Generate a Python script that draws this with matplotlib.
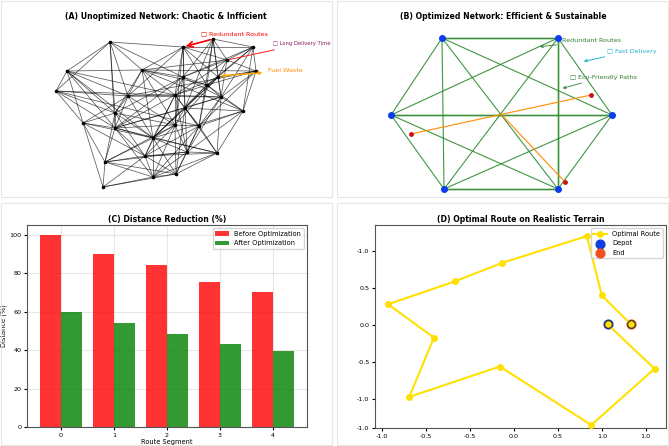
import matplotlib.pyplot as plt
from matplotlib.patches import Rectangle

# ---- panel A: chaotic network (positions, pixel units)
a_nodes = [(110, 42), (183, 47), (213, 39), (253, 47), (227, 60), (256, 71),
           (67, 71), (142, 70), (56, 91), (218, 77), (183, 77), (207, 85),
           (128, 96), (175, 95), (221, 97), (243, 111), (115, 113), (185, 108),
           (83, 123), (115, 128), (175, 125), (199, 126), (153, 138), (187, 152),
           (217, 153), (145, 156), (105, 162), (153, 177), (176, 174), (103, 187)]
a_links = {
    0: [6, 8, 1, 7, 12, 16, 10, 19],
    1: [2, 7, 10, 13, 17, 20, 3, 4, 9, 11, 12],
    2: [3, 4, 9, 11, 14, 10, 17, 21],
    3: [5, 4, 9, 14, 15, 11, 10],
    4: [5, 9, 14, 10, 7, 13],
    5: [9, 14, 15, 11, 12, 21, 7],
    6: [8, 7, 12, 16, 18, 19, 13, 22],
    7: [12, 13, 10, 16, 20, 22, 11, 15],
    8: [12, 16, 18, 19, 14, 21],
    9: [11, 14, 13, 17, 20, 22],
    10: [11, 13, 17, 14, 16, 20, 19],
    11: [13, 14, 17, 21, 22, 15],
    12: [16, 19, 13, 14, 22, 20, 18],
    13: [17, 20, 21, 19, 22, 23, 25],
    14: [15, 17, 21, 24, 19, 23],
    15: [21, 24, 23, 17, 22],
    16: [18, 19, 22, 20, 25, 26],
    17: [20, 21, 23, 22, 24, 28, 19],
    18: [19, 26, 29, 22, 25],
    19: [22, 25, 26, 20, 27, 24],
    20: [21, 22, 23, 25, 28, 27, 26],
    21: [23, 24, 28, 25, 27],
    22: [25, 23, 27, 28, 24, 26],
    23: [24, 28, 27, 25, 26],
    24: [28, 27, 25],
    25: [26, 27, 28, 29],
    26: [29, 27, 28],
    27: [28, 29],
    28: [29],
}

# ---- panel B: optimized hexagon network
b_nodes = [(442, 38), (558, 38), (612, 115), (558, 189), (444, 189), (391, 115)]
b_strong = [(1, 3), (4, 3), (5, 2), (0, 1)]
b_orange = [((411, 134), (591, 95)), ((502, 115), (565, 182))]
b_red = [(411, 134), (591, 95), (565, 182)]

# ---- panel C: distance reduction
segments = [0, 1, 2, 3, 4]
before = [100, 90, 84, 75.5, 70.3]
after = [60, 54.3, 48.5, 43.3, 39.7]

# ---- panel D: route
route_x = [1.065, 1.60, 0.88, -0.16, -1.19, -0.91, -1.43, -0.67, -0.13, 0.83, 1.00, 1.33]
route_y = [0.01, -0.59, -1.35, -0.56, -0.97, -0.17, 0.28, 0.59, 0.84, 1.20, 0.40, 0.01]
d_xticks = [-1.5, -1.0, -0.5, 0.0, 0.5, 1.0, 1.5]
d_xlabels = ['-1.0', '-0.5', '-0.5', '0.0', '0.5', '1.0', '1.0']
d_yticks = [1.0, 0.5, 0.0, -0.5, -1.0, -1.39]
d_ylabels = ['-1.0', '0.5', '0.0', '-0.5', '-1.0', '-1.0']

W, H = 669, 446
fig = plt.figure(figsize=(6.69, 4.46), dpi=100)

def box(x0, y0, x1, y1):
    # pixel box (top-left origin) -> figure fraction
    return [x0 / W, 1 - y1 / H, (x1 - x0) / W, (y1 - y0) / H]

for rx in [(1, 332), (337, 668)]:
    for ry in [(1, 197), (203, 445)]:
        b = box(rx[0], ry[0], rx[1], ry[1])
        fig.patches.append(Rectangle((b[0], b[1]), b[2], b[3], transform=fig.transFigure,
                                     fill=False, edgecolor='#e6e6e6', lw=0.8))

title_kw = dict(fontsize=5.6, fontweight='bold', pad=2.5)

# A
ax1 = fig.add_axes(box(0, 22, 332, 197))
ax1.set_xlim(0, 332)
ax1.set_ylim(197, 22)
ax1.axis('off')
for i, nb in a_links.items():
    for j in nb:
        ax1.plot([a_nodes[i][0], a_nodes[j][0]], [a_nodes[i][1], a_nodes[j][1]],
                 color='black', lw=0.55, alpha=0.65)
ax1.scatter([p[0] for p in a_nodes], [p[1] for p in a_nodes], s=2.5, color='black', zorder=3)
ax1.set_title('(A) Unoptimized Network: Chaotic & Infficient', **title_kw)
ax1.annotate('', xy=a_nodes[1], xytext=a_nodes[2],
             arrowprops=dict(arrowstyle='->', color='red', lw=1.2))
ax1.text(201, 34, '□ Redundant Routes', color='red', fontsize=4.6, va='center')
ax1.annotate('□ Long Delivery Time', xy=a_nodes[4], xytext=(273, 44), color='#8b1a5a',
             fontsize=3.8, va='center',
             arrowprops=dict(arrowstyle='-', color='red', lw=0.6))
ax1.annotate('Fuel Waste', xy=(218, 76), xytext=(268, 71), color='darkorange',
             fontsize=4.6, va='center',
             arrowprops=dict(arrowstyle='<->', color='orange', lw=1.0))

# B
ax2 = fig.add_axes(box(337, 22, 669, 197))
ax2.set_xlim(337, 669)
ax2.set_ylim(197, 22)
ax2.axis('off')
for i in range(len(b_nodes)):
    for j in range(i + 1, len(b_nodes)):
        ax2.plot([b_nodes[i][0], b_nodes[j][0]], [b_nodes[i][1], b_nodes[j][1]],
                 color='#2e8b2e', lw=0.8, alpha=0.9)
for i, j in b_strong:
    ax2.plot([b_nodes[i][0], b_nodes[j][0]], [b_nodes[i][1], b_nodes[j][1]],
             color='#2e8b2e', lw=2.0, alpha=0.3)
for p, q in b_orange:
    ax2.plot([p[0], q[0]], [p[1], q[1]], color='darkorange', lw=0.9, alpha=0.9)
ax2.scatter([p[0] for p in b_red], [p[1] for p in b_red], s=6, color='#cc1010', zorder=4)
ax2.scatter([p[0] for p in b_nodes], [p[1] for p in b_nodes], s=16, color='#0a3cf0', zorder=5)
ax2.set_title('(B) Optimized Network: Efficient & Sustainable', **title_kw)
ax2.annotate('Redundant Routes', xy=(537, 47), xytext=(562, 41), color='#2e7d2e',
             fontsize=4.6, va='center',
             arrowprops=dict(arrowstyle='->', color='#2e7d2e', lw=0.6))
ax2.annotate('□ Fast Delivery', xy=(581, 62), xytext=(607, 51), color='#1fb4cc',
             fontsize=4.6, va='center',
             arrowprops=dict(arrowstyle='->', color='#1fb4cc', lw=0.7))
ax2.annotate('□ Eco-Friendly Paths', xy=(560, 89), xytext=(570, 77), color='#2e7d2e',
             fontsize=4.6, va='center',
             arrowprops=dict(arrowstyle='->', color='#2e7d2e', lw=0.6))

# C
ax3 = fig.add_axes(box(27, 225, 307, 427))
ax3.bar([x - 0.2 for x in segments], before, width=0.4, color='red', alpha=0.8,
        label='Before Optimization')
ax3.bar([x + 0.2 for x in segments], after, width=0.4, color='green', alpha=0.8,
        label='After Optimization')
ax3.set_xticks(segments)
ax3.set_ylim(0, 105)
ax3.grid(True, alpha=0.3)
ax3.set_axisbelow(True)
ax3.tick_params(labelsize=4.6, length=2, pad=2)
ax3.set_xlabel('Route Segment', fontsize=4.8, labelpad=1)
ax3.set_ylabel('Distance (%)', fontsize=4.8, labelpad=2)
ax3.set_title('(C) Distance Reduction (%)', **title_kw)
ax3.legend(fontsize=4.8, loc='upper right')
for s in ax3.spines.values():
    s.set_color('#555555')

# D
ax4 = fig.add_axes(box(375, 225, 666, 428))
ax4.scatter(route_x[0], route_y[0], s=40, color='#1040e0', label='Depot', zorder=2)
ax4.scatter(route_x[-1], route_y[-1], s=40, color='#f05020', label='End', zorder=2)
ax4.plot(route_x, route_y, color='#ffe000', lw=1.5, marker='o', markersize=4,
         label='Optimal Route', zorder=3)
ax4.scatter([route_x[0], route_x[-1]], [route_y[0], route_y[-1]], s=30, color='#ffe000',
            edgecolor='#333333', lw=0.8, zorder=4)
ax4.set_xlim(-1.58, 1.73)
ax4.set_ylim(-1.39, 1.35)
ax4.set_xticks(d_xticks)
ax4.set_xticklabels(d_xlabels)
ax4.set_yticks(d_yticks)
ax4.set_yticklabels(d_ylabels)
ax4.tick_params(labelsize=4.6, length=2, pad=2)
ax4.set_title('(D) Optimal Route on Realistic Terrain', **title_kw)
h, l = ax4.get_legend_handles_labels()
order = [l.index('Optimal Route'), l.index('Depot'), l.index('End')]
ax4.legend([h[k] for k in order], [l[k] for k in order], fontsize=4.8, loc='upper right')
for s in ax4.spines.values():
    s.set_color('#555555')

fig.savefig('out.png', dpi=100)
